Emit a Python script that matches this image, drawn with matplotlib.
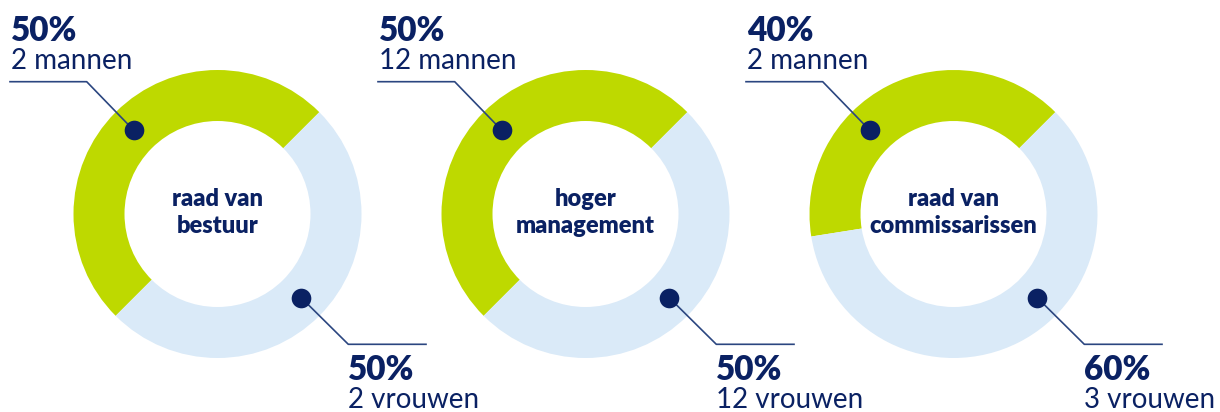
import matplotlib
matplotlib.use("Agg")
import matplotlib.pyplot as plt
import numpy as np

# data
groups = ["raad van\nbestuur", "hoger\nmanagement", "raad van\ncommissarissen"]
mannen_pct = [50, 50, 40]
vrouwen_pct = [50, 50, 60]
mannen_n = [2, 12, 2]
vrouwen_n = [2, 12, 3]

GREEN = "#BED900"
BLUE = "#DAEAF8"
NAVY = "#0A2163"
LINE = "#2B4680"

W, H = 1220, 412
fig = plt.figure(figsize=(W / 100, H / 100), dpi=100)
ax = fig.add_axes([0, 0, 1, 1])

centers_x = [217.5, 585.5, 953.5]
cy = H - 214
R_out, R_in = 144, 93
R_mid = (R_out + R_in) / 2
FONT = "Lato"

for i, cx in enumerate(centers_x):
    ax.pie([mannen_pct[i], vrouwen_pct[i]], colors=[GREEN, BLUE], startangle=45,
           counterclock=True, center=(cx, cy), radius=R_out,
           wedgeprops=dict(width=R_out - R_in, linewidth=0))
    # dots
    a1, a2 = np.deg2rad(135), np.deg2rad(-45)
    d1 = (cx + R_mid * np.cos(a1), cy + R_mid * np.sin(a1))
    d2 = (cx + R_mid * np.cos(a2), cy + R_mid * np.sin(a2))
    e = 130.8
    ytop = H - 81.7
    ybot = H - 344.3
    ax.plot([d1[0], cx - e, cx - 207.5], [d1[1], ytop, ytop], color=LINE, lw=1.2, zorder=3)
    ax.plot([d2[0], cx + e, cx + 208.5], [d2[1], ybot, ybot], color=LINE, lw=1.2, zorder=3)
    ax.scatter([d1[0], d2[0]], [d1[1], d2[1]], s=200, color=NAVY, zorder=4, linewidths=0)
    # labels
    ax.text(cx - 206.5, H - 40.7, f"{mannen_pct[i]}%", fontsize=24, fontweight="heavy",
            color=NAVY, family=FONT, va="baseline", ha="left")
    ax.text(cx - 206.5, H - 69, f"{mannen_n[i]} mannen", fontsize=20, fontweight="normal",
            color=NAVY, family=FONT, va="baseline", ha="left")
    ax.text(cx + e, H - 380, f"{vrouwen_pct[i]}%", fontsize=24, fontweight="heavy",
            color=NAVY, family=FONT, va="baseline", ha="left")
    ax.text(cx + e, H - 408, f"{vrouwen_n[i]} vrouwen", fontsize=20, fontweight="normal",
            color=NAVY, family=FONT, va="baseline", ha="left")
    l1, l2 = groups[i].split("\n")
    ax.text(cx, H - 205.7, l1, fontsize=17, fontweight="heavy", color=NAVY, family=FONT,
            va="baseline", ha="center")
    ax.text(cx, H - 233, l2, fontsize=17, fontweight="heavy", color=NAVY, family=FONT,
            va="baseline", ha="center")

ax.set_xlim(0, W)
ax.set_ylim(0, H)
ax.set_aspect("auto")
ax.axis("off")
fig.savefig("out.png", dpi=100, facecolor="white")
